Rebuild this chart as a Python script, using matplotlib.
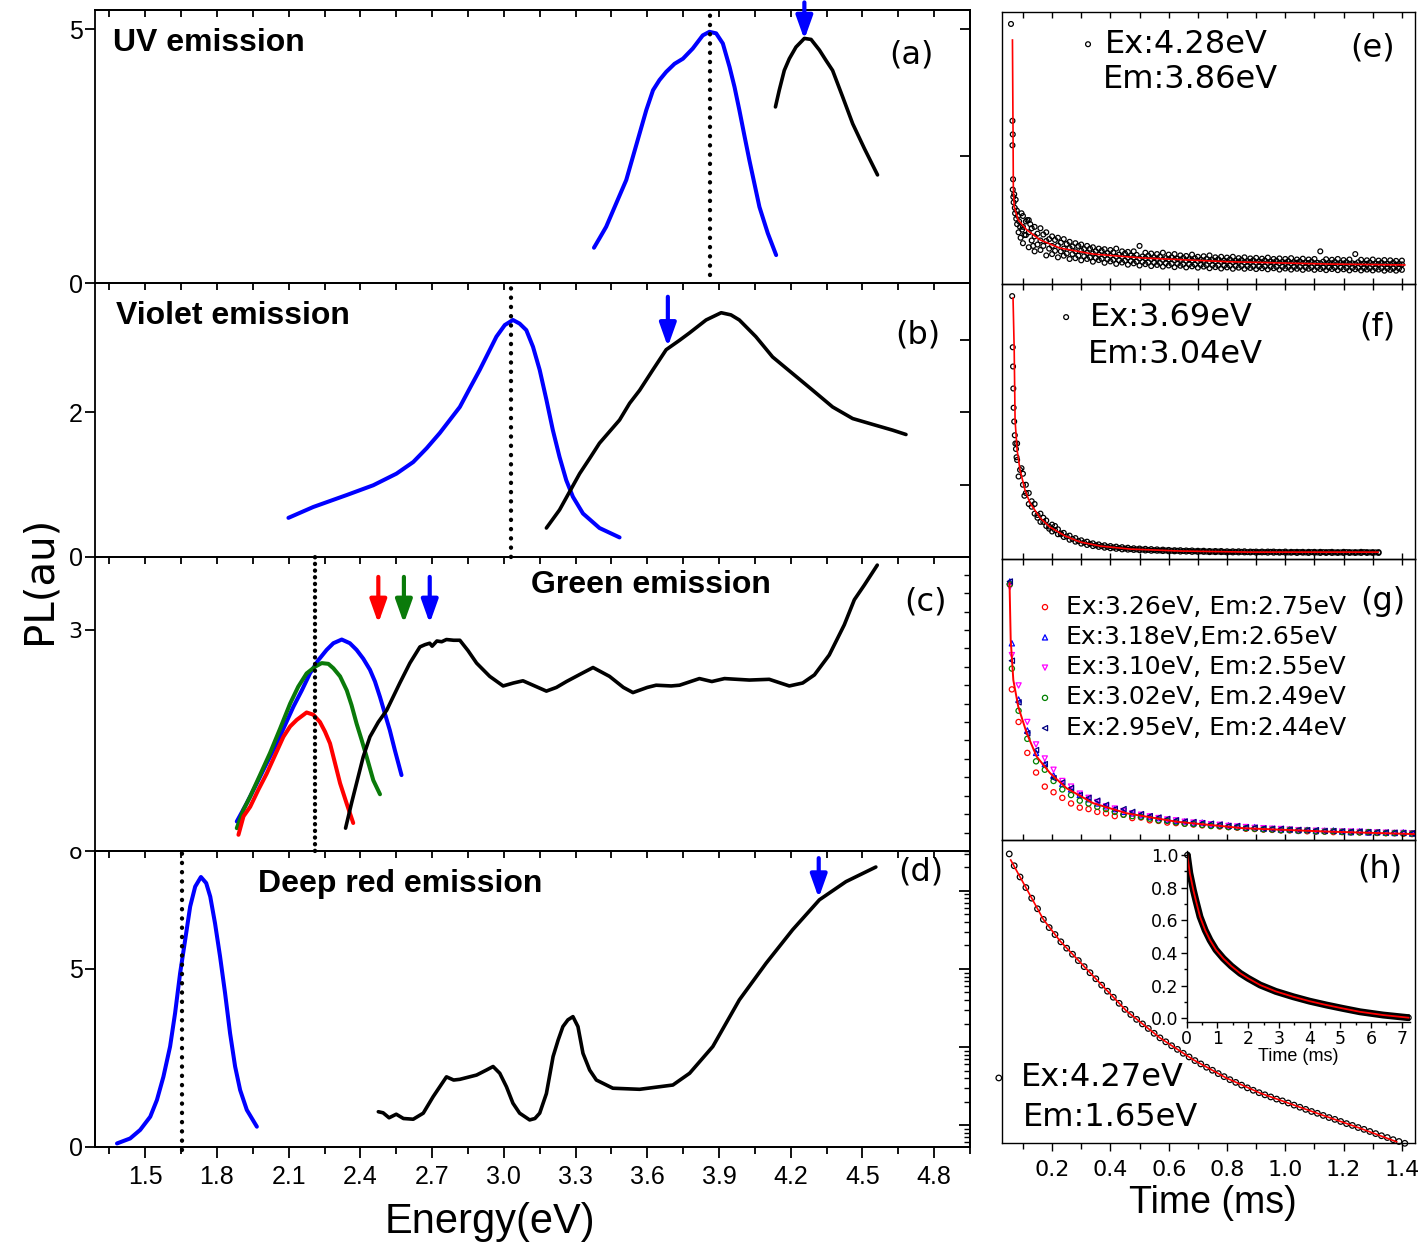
import matplotlib
matplotlib.use("Agg")
import matplotlib.pyplot as plt
from matplotlib.ticker import MultipleLocator, FormatStrFormatter, NullFormatter, LogLocator

plt.rcParams['font.family'] = ['Liberation Sans', 'DejaVu Sans']
plt.rcParams['axes.linewidth'] = 1.3

DEJAVU = ['DejaVu Sans']

BLUE = '#0000ff'
RED = '#ff0000'
GREEN = '#0a7a0a'

##### left column: PL / PLE spectra, energy (eV) vs intensity (au)

# (a) UV emission
a_pl_E = [3.377, 3.400, 3.428, 3.470, 3.512, 3.540, 3.568, 3.596, 3.624, 3.651, 3.679, 3.714, 3.749, 3.790,
          3.832, 3.860, 3.888, 3.916, 3.944, 3.965, 3.985, 4.006, 4.027, 4.048, 4.069, 4.104, 4.139]
a_pl_I = [0.695, 0.88, 1.108, 1.57, 2.03, 2.49, 2.95, 3.41, 3.80, 4.0, 4.16, 4.32, 4.42, 4.62,
          4.88, 4.95, 4.92, 4.72, 4.26, 3.86, 3.41, 2.91, 2.42, 1.96, 1.50, 0.98, 0.55]
a_ple_E = [4.136, 4.152, 4.173, 4.194, 4.222, 4.257, 4.285, 4.320, 4.347, 4.375, 4.417, 4.459, 4.508, 4.563]
a_ple_I = [3.47, 3.80, 4.19, 4.42, 4.65, 4.82, 4.80, 4.59, 4.39, 4.19, 3.67, 3.14, 2.65, 2.13]
a_peak_E = 3.864
a_ex_E = 4.257

# (b) Violet emission
b_pl_E = [2.099, 2.203, 2.343, 2.454, 2.551, 2.621, 2.677, 2.732, 2.774, 2.816, 2.858, 2.899, 2.934, 2.969,
          3.004, 3.038, 3.066, 3.094, 3.122, 3.150, 3.178, 3.205, 3.233, 3.261, 3.289, 3.331, 3.40, 3.484]
b_pl_I = [0.54, 0.69, 0.855, 0.99, 1.15, 1.31, 1.50, 1.71, 1.89, 2.07, 2.33, 2.58, 2.81, 3.04,
          3.20, 3.27, 3.22, 3.13, 2.90, 2.58, 2.17, 1.75, 1.38, 1.06, 0.83, 0.60, 0.40, 0.27]
b_ple_E = [3.178, 3.233, 3.275, 3.317, 3.359, 3.40, 3.484, 3.526, 3.568, 3.623, 3.679, 3.735, 3.776, 3.846,
           3.909, 3.950, 3.985, 4.054, 4.124, 4.208, 4.292, 4.375, 4.459, 4.542, 4.626, 4.682]
b_ple_I = [0.40, 0.65, 0.90, 1.15, 1.36, 1.57, 1.89, 2.12, 2.30, 2.58, 2.86, 2.99, 3.09, 3.27,
           3.37, 3.34, 3.27, 3.04, 2.76, 2.53, 2.30, 2.07, 1.91, 1.83, 1.75, 1.69]
b_peak_E = 3.032
b_ex_E = 3.686

# (c) Green emission, three excitations
c_blue_E = [1.883, 1.925, 1.967, 2.008, 2.050, 2.085, 2.120, 2.155, 2.189, 2.224, 2.259, 2.287, 2.322, 2.356,
            2.384, 2.412, 2.440, 2.461, 2.482, 2.502, 2.523, 2.544, 2.572]
c_blue_I = [0.40, 0.65, 0.92, 1.19, 1.46, 1.71, 1.96, 2.18, 2.41, 2.59, 2.73, 2.82, 2.87, 2.82,
            2.73, 2.61, 2.46, 2.30, 2.09, 1.87, 1.64, 1.37, 1.03]
c_green_E = [1.883, 1.911, 1.939, 1.980, 2.022, 2.064, 2.106, 2.140, 2.175, 2.210, 2.238, 2.266, 2.287, 2.315,
             2.343, 2.363, 2.384, 2.405, 2.426, 2.454, 2.482]
c_green_I = [0.31, 0.56, 0.74, 1.03, 1.33, 1.66, 2.00, 2.23, 2.41, 2.50, 2.55, 2.54, 2.48, 2.37,
             2.18, 1.98, 1.73, 1.51, 1.28, 0.96, 0.77]
c_red_E = [1.890, 1.911, 1.939, 1.973, 2.008, 2.043, 2.078, 2.106, 2.134, 2.175, 2.203, 2.231, 2.252, 2.273,
           2.294, 2.315, 2.342, 2.370]
c_red_I = [0.22, 0.47, 0.60, 0.83, 1.05, 1.30, 1.55, 1.69, 1.78, 1.88, 1.85, 1.75, 1.62, 1.46,
           1.19, 0.92, 0.65, 0.38]
c_ple_E = [2.338, 2.363, 2.384, 2.412, 2.440, 2.475, 2.510, 2.565, 2.607, 2.649, 2.67, 2.690, 2.70, 2.72,
           2.74, 2.760, 2.79, 2.816, 2.85, 2.886, 2.941, 2.997, 3.04, 3.080, 3.122, 3.178, 3.22, 3.262,
           3.32, 3.373, 3.442, 3.50, 3.540, 3.60, 3.637, 3.70, 3.735, 3.818, 3.87, 3.923, 4.027, 4.11,
           4.194, 4.25, 4.299, 4.361, 4.424, 4.466, 4.508, 4.562]
c_ple_I = [0.31, 0.65, 0.92, 1.28, 1.55, 1.75, 1.91, 2.28, 2.55, 2.77, 2.80, 2.82, 2.78, 2.85,
           2.84, 2.87, 2.86, 2.86, 2.72, 2.55, 2.37, 2.24, 2.28, 2.31, 2.25, 2.17, 2.22, 2.30,
           2.40, 2.49, 2.37, 2.22, 2.15, 2.22, 2.25, 2.24, 2.25, 2.34, 2.30, 2.34, 2.32, 2.33,
           2.24, 2.28, 2.39, 2.66, 3.07, 3.41, 3.61, 3.88]
c_peak_E = 2.210
c_ex_E = [2.475, 2.582, 2.690]
c_ex_colors = [RED, GREEN, BLUE]

# (d) Deep red emission
d_pl_E = [1.382, 1.437, 1.479, 1.521, 1.549, 1.576, 1.604, 1.625, 1.646, 1.667, 1.688, 1.709, 1.733, 1.755,
          1.772, 1.792, 1.813, 1.834, 1.855, 1.876, 1.897, 1.925, 1.967]
d_pl_I = [0.10, 0.24, 0.48, 0.85, 1.32, 1.97, 2.82, 3.76, 4.88, 5.81, 6.75, 7.31, 7.58, 7.41,
          7.03, 6.28, 5.35, 4.32, 3.19, 2.26, 1.60, 1.04, 0.57]
d_ple_E = [2.475, 2.495, 2.52, 2.55, 2.58, 2.621, 2.663, 2.704, 2.760, 2.79, 2.816, 2.886, 2.927, 2.955,
           2.983, 3.011, 3.038, 3.066, 3.108, 3.13, 3.15, 3.178, 3.206, 3.227, 3.247, 3.268, 3.289, 3.310,
           3.331, 3.359, 3.387, 3.456, 3.568, 3.707, 3.777, 3.874, 3.985, 4.097, 4.208, 4.320, 4.431, 4.556]
d_ple_I = [0.99, 0.96, 0.82, 0.92, 0.80, 0.78, 0.95, 1.41, 1.97, 1.88, 1.90, 2.02, 2.16, 2.26,
           2.07, 1.69, 1.23, 0.95, 0.76, 0.80, 0.95, 1.50, 2.54, 3.00, 3.38, 3.57, 3.66, 3.38,
           2.63, 2.16, 1.88, 1.65, 1.62, 1.74, 2.07, 2.82, 4.13, 5.16, 6.10, 6.94, 7.45, 7.86]
d_peak_E = 1.655
d_ex_E = 4.317

##### right column: decay curves, time (ms) vs normalised intensity

# (e) Ex:4.28eV Em:3.86eV
e_early_t = [0.059, 0.064, 0.065, 0.064, 0.066, 0.065, 0.067, 0.068, 0.070, 0.072,
             0.073, 0.075, 0.077, 0.079, 0.080, 0.083, 0.085, 0.087, 0.090, 0.092,
             0.095, 0.097, 0.105, 0.115, 0.125, 0.135]
e_early_y = [0.956, 0.60, 0.55, 0.51, 0.385, 0.347, 0.32, 0.30, 0.33, 0.28,
             0.26, 0.31, 0.24, 0.27, 0.22, 0.25, 0.19, 0.23, 0.21, 0.17,
             0.26, 0.20, 0.18, 0.235, 0.22, 0.14]
e_t = [0.10, 0.12, 0.14, 0.16, 0.18, 0.20, 0.22, 0.24, 0.26, 0.28,
       0.30, 0.32, 0.34, 0.36, 0.38, 0.40, 0.42, 0.44, 0.46, 0.48,
       0.50, 0.52, 0.54, 0.56, 0.58, 0.60, 0.62, 0.64, 0.66, 0.68,
       0.70, 0.72, 0.74, 0.76, 0.78, 0.80, 0.82, 0.84, 0.86, 0.88,
       0.90, 0.92, 0.94, 0.96, 0.98, 1.00, 1.02, 1.04, 1.06, 1.08,
       1.10, 1.12, 1.14, 1.16, 1.18, 1.20, 1.22, 1.24, 1.26, 1.28,
       1.30, 1.32, 1.34, 1.36, 1.38, 1.40]
e_y_hi = [.25, .235, .21, .205, .19, .175, .17, .165, .155, .15,
          .145, .14, .135, .13, .128, .125, .13, .12, .118, .12,
          .14, .115, .112, .11, .115, .108, .11, .105, .103, .108,
          .10, .102, .105, .098, .10, .097, .10, .095, .098, .094,
          .096, .093, .097, .092, .094, .092, .095, .09, .093, .09,
          .092, .12, .091, .089, .092, .088, .09, .11, .089, .087,
          .09, .086, .088, .087, .085, .086]
e_y_mid = [.21, .19, .175, .16, .158, .14, .142, .13, .132, .12,
           .122, .114, .112, .108, .106, .104, .101, .100, .097, .098,
           .094, .095, .092, .093, .089, .091, .088, .089, .086, .087,
           .085, .086, .083, .084, .082, .083, .081, .082, .080, .081,
           .079, .080, .078, .079, .077, .078, .077, .078, .076, .077,
           .075, .076, .075, .076, .074, .075, .074, .074, .073, .074,
           .072, .073, .072, .072, .071, .072]
e_y_lo = [.15, .135, .12, .125, .105, .11, .098, .104, .092, .095,
          .087, .092, .082, .088, .078, .083, .074, .079, .071, .076,
          .068, .073, .066, .07, .064, .068, .062, .067, .061, .065,
          .06, .064, .058, .062, .057, .061, .056, .06, .056, .059,
          .055, .058, .054, .058, .053, .057, .053, .056, .052, .056,
          .052, .055, .051, .055, .051, .054, .05, .054, .05, .053,
          .05, .053, .049, .052, .049, .052]
e_t2 = [0.11, 0.13, 0.15, 0.17, 0.19, 0.21, 0.23, 0.25, 0.27, 0.29,
        0.31, 0.33, 0.35, 0.37, 0.39, 0.41, 0.43, 0.45, 0.47, 0.49,
        0.51, 0.53, 0.55, 0.57, 0.59, 0.61, 0.63, 0.65, 0.67, 0.69,
        0.71, 0.73, 0.75, 0.77, 0.79, 0.81, 0.83, 0.85, 0.87, 0.89,
        0.91, 0.93, 0.95, 0.97, 0.99, 1.01, 1.03, 1.05, 1.07, 1.09,
        1.11, 1.13, 1.15, 1.17, 1.19, 1.21, 1.23, 1.25, 1.27, 1.29,
        1.31, 1.33, 1.35, 1.37, 1.39]
e_y2_hi = [.23, .205, .185, .182, .165, .162, .152, .147, .138, .14,
           .128, .13, .12, .122, .114, .116, .108, .112, .104, .107,
           .101, .104, .098, .1, .095, .098, .093, .096, .091, .094,
           .089, .092, .088, .091, .086, .09, .085, .088, .084, .087,
           .083, .086, .082, .085, .081, .084, .08, .083, .079, .082,
           .078, .082, .077, .081, .077, .08, .076, .08, .075, .079,
           .075, .078, .074, .078, .073]
e_y2_lo = [.18, .16, .145, .14, .13, .122, .12, .112, .11, .104,
           .102, .098, .096, .093, .091, .089, .087, .086, .084, .082,
           .081, .079, .078, .077, .076, .074, .074, .072, .072, .071,
           .07, .069, .069, .068, .067, .067, .066, .066, .065, .065,
           .064, .064, .063, .063, .063, .062, .062, .062, .061, .061,
           .061, .06, .06, .06, .06, .059, .059, .059, .058, .058,
           .058, .058, .057, .057, .057]
e_fit_t = [0.064, 0.066, 0.067, 0.070, 0.084, 0.113, 0.159, 0.227, 0.341, 0.512, 0.80, 1.14, 1.41]
e_fit_y = [0.897, 0.555, 0.357, 0.283, 0.235, 0.199, 0.162, 0.132, 0.110, 0.0956, 0.082, 0.0735, 0.070]

# (f) Ex:3.69eV Em:3.04eV
f_early_t = [0.063, 0.065, 0.066, 0.067, 0.068, 0.070, 0.072, 0.074, 0.076, 0.078,
             0.085, 0.095, 0.105, 0.11, 0.13, 0.15, 0.17, 0.19, 0.21, 0.23]
f_early_y = [0.956, 0.77, 0.70, 0.62, 0.55, 0.50, 0.45, 0.42, 0.40, 0.37,
             0.30, 0.33, 0.23, 0.27, 0.21, 0.15, 0.15, 0.11, 0.12, 0.09]
f_t = [0.08, 0.10, 0.12, 0.14, 0.16, 0.18, 0.20, 0.22, 0.24, 0.26,
       0.28, 0.30, 0.32, 0.34, 0.36, 0.38, 0.40, 0.42, 0.44, 0.46,
       0.48, 0.50, 0.52, 0.54, 0.56, 0.58, 0.60, 0.62, 0.64, 0.66,
       0.68, 0.70, 0.72, 0.74, 0.76, 0.78, 0.80, 0.82, 0.84, 0.86,
       0.88, 0.90, 0.92, 0.94, 0.96, 0.98, 1.00, 1.02, 1.04, 1.06,
       1.08, 1.10, 1.12, 1.14, 1.16, 1.18, 1.20, 1.22, 1.24, 1.26,
       1.28, 1.30, 1.32]
f_y_hi = [.42, .31, .24, .20, .165, .14, .125, .108, .095, .085,
          .076, .068, .063, .057, .053, .050, .047, .045, .043, .041,
          .039, .038, .037, .036, .035, .034, .033, .032, .032, .031,
          .031, .030, .030, .029, .029, .029, .028, .028, .028, .028,
          .027, .027, .027, .027, .027, .026, .027, .026, .026, .026,
          .026, .026, .026, .025, .026, .025, .026, .025, .025, .026,
          .025, .025, .025]
f_y_lo = [.36, .27, .20, .165, .135, .12, .10, .09, .08, .07,
          .063, .056, .051, .047, .044, .041, .039, .037, .035, .034,
          .033, .032, .031, .030, .030, .029, .028, .028, .027, .027,
          .026, .026, .026, .025, .025, .025, .024, .024, .024, .024,
          .024, .023, .024, .023, .023, .023, .023, .023, .022, .023,
          .022, .023, .022, .022, .022, .022, .022, .022, .022, .022,
          .022, .022, .022]
f_t2 = [0.09, 0.11, 0.13, 0.15, 0.17, 0.19, 0.21, 0.23, 0.25, 0.27,
        0.29, 0.31, 0.33, 0.35, 0.37, 0.39, 0.41, 0.43, 0.45, 0.47,
        0.49, 0.51, 0.53, 0.55, 0.57, 0.59, 0.61, 0.63, 0.65, 0.67,
        0.69, 0.71, 0.73, 0.75, 0.77, 0.79, 0.81, 0.83, 0.85, 0.87,
        0.89, 0.91, 0.93, 0.95, 0.97, 0.99, 1.01, 1.03, 1.05, 1.07,
        1.09, 1.11, 1.13, 1.15, 1.17, 1.19, 1.21, 1.23, 1.25, 1.27,
        1.29, 1.31]
f_y2 = [.324, .24, .19, .16, .135, .118, .105, .093, .082, .073,
        .065, .06, .055, .05, .047, .044, .042, .04, .038, .036,
        .035, .034, .033, .032, .031, .031, .03, .03, .029, .029,
        .028, .028, .027, .027, .027, .026, .026, .026, .026, .025,
        .026, .025, .025, .026, .025, .025, .024, .025, .025, .024,
        .025, .024, .025, .025, .024, .024, .025, .024, .024, .025,
        .024, .024]
f_fit_t = [0.066, 0.070, 0.073, 0.080, 0.090, 0.107, 0.124, 0.159, 0.193, 0.244, 0.296, 0.365, 0.468, 0.639, 0.879, 1.318]
f_fit_y = [0.949, 0.76, 0.505, 0.396, 0.324, 0.251, 0.204, 0.149, 0.116, 0.084, 0.062, 0.047, 0.036, 0.029, 0.025, 0.025]

# (g) five excitation / emission pairs
g_labels = ['Ex:3.26eV, Em:2.75eV', 'Ex:3.18eV,Em:2.65eV', 'Ex:3.10eV, Em:2.55eV',
            'Ex:3.02eV, Em.2.49eV', 'Ex:2.95eV, Em:2.44eV']
g_colors = ['#ff0000', '#0000ff', '#ff00ff', '#008000', '#000080']
g_markers = ['o', '^', 'v', 'o', '<']
g_t = [0.055, 0.062,
       0.085, 0.115, 0.145, 0.175, 0.205, 0.235, 0.265, 0.295, 0.325, 0.355,
       0.385, 0.415, 0.445, 0.475, 0.505, 0.535, 0.565, 0.595, 0.625, 0.655,
       0.685, 0.715, 0.745, 0.775, 0.805, 0.835, 0.865, 0.895, 0.925, 0.955,
       0.985, 1.015, 1.045, 1.075, 1.105, 1.135, 1.165, 1.195, 1.225, 1.255,
       1.285, 1.315, 1.345, 1.375, 1.405, 1.435]
g_red = [0.91, 0.536,
         .42, .31, .24, .19, .17, .15, .13, .115, .11, .10,
         .095, .085, .09, .078, .08, .07, .068, .062, .06, .058,
         .055, .052, .05, .048, .046, .044, .04, .039, .037, .036,
         .034, .034, .032, .031, .03, .03, .028, .028, .027, .027,
         .026, .025, .024, .024, .022, .021]
g_blue = [0.92, 0.70,
          .50, .39, .31, .27, .23, .20, .18, .16, .145, .13,
          .12, .11, .10, .095, .088, .083, .078, .072, .068, .066,
          .06, .062, .055, .053, .052, .047, .044, .046, .04, .04,
          .037, .038, .035, .036, .032, .033, .034, .03, .028, .031,
          .027, .028, .026, .025, .027, .023]
g_magenta = [0.90, 0.658,
             .55, .42, .34, .29, .25, .21, .19, .165, .15, .135,
             .12, .112, .103, .095, .09, .084, .078, .073, .07, .065,
             .062, .06, .056, .054, .05, .048, .046, .043, .042, .04,
             .039, .037, .035, .034, .033, .032, .031, .03, .03, .029,
             .028, .027, .026, .025, .025, .024]
g_green = [0.91, 0.61,
           .46, .36, .28, .25, .21, .18, .16, .14, .13, .118,
           .11, .1, .09, .085, .082, .076, .07, .068, .063, .058,
           .057, .054, .05, .05, .046, .045, .042, .04, .038, .037,
           .035, .036, .033, .034, .031, .03, .031, .029, .028, .027,
           .028, .026, .025, .025, .024, .023]
g_navy = [0.92, 0.638,
          .49, .38, .32, .27, .22, .205, .185, .16, .15, .14,
          .125, .11, .11, .10, .092, .085, .08, .075, .07, .066,
          .064, .06, .058, .055, .05, .05, .045, .044, .041, .04,
          .04, .037, .036, .035, .035, .032, .032, .031, .03, .03,
          .028, .028, .027, .026, .025, .024]
g_fit_t = [0.054, 0.058, 0.067, 0.084, 0.113, 0.147, 0.193, 0.250, 0.341, 0.456, 0.627, 0.856, 1.142, 1.445]
g_fit_y = [0.914, 0.712, 0.569, 0.474, 0.380, 0.297, 0.238, 0.184, 0.131, 0.095, 0.065, 0.042, 0.030, 0.021]

# (h) Ex:4.27eV Em:1.65eV
h_t = [0.053, 0.07, 0.09, 0.11, 0.13, 0.15, 0.17, 0.19, 0.21, 0.23,
       0.25, 0.27, 0.29, 0.31, 0.33, 0.35, 0.37, 0.39, 0.41, 0.43,
       0.45, 0.47, 0.49, 0.51, 0.53, 0.55, 0.57, 0.59, 0.61, 0.63,
       0.65, 0.67, 0.69, 0.71, 0.73, 0.75, 0.77, 0.79, 0.81, 0.83,
       0.85, 0.87, 0.89, 0.91, 0.93, 0.95, 0.97, 0.99, 1.01, 1.03,
       1.05, 1.07, 1.09, 1.11, 1.13, 1.15, 1.17, 1.19, 1.21, 1.23,
       1.25, 1.27, 1.29, 1.31, 1.33, 1.35, 1.37, 1.39, 1.41]
h_y = [.954, .915, .878, .843, .808, .773, .738, .711, .688, .664,
       .643, .623, .602, .582, .562, .542, .521, .501, .481, .461,
       .441, .424, .408, .393, .378, .362, .347, .334, .321, .309,
       .296, .284, .272, .261, .250, .240, .229, .219, .209, .200,
       .191, .182, .174, .166, .159, .152, .145, .139, .132, .125,
       .118, .111, .104, .098, .091, .084, .078, .071, .064, .058,
       .051, .045, .038, .031, .024, .018, .011, .005, -.001]
h_fit_t = [0.058, 0.113, 0.170, 0.227, 0.341, 0.456, 0.570, 0.684, 0.799, 0.913, 1.027, 1.142, 1.256, 1.382]
h_fit_y = [0.934, 0.838, 0.738, 0.667, 0.551, 0.435, 0.347, 0.275, 0.214, 0.165, 0.126, 0.087, 0.049, 0.004]

# (h) inset, full decay up to 7 ms
in_t = [0.02, 0.10, 0.215, 0.30, 0.433, 0.60, 0.759, 0.95, 1.19, 1.45, 1.74, 2.0, 2.39, 2.9, 3.47, 4.0, 4.56, 5.1, 5.64, 6.4, 7.22]
in_y = [1.0, 0.89, 0.786, 0.72, 0.622, 0.54, 0.479, 0.42, 0.367, 0.32, 0.276, 0.245, 0.204, 0.165, 0.132, 0.105, 0.081, 0.06, 0.040, 0.02, 0.004]


fig = plt.figure(figsize=(14.18, 12.5), dpi=100)
fig.patch.set_facecolor('white')


def energy_axes(rect, ylim, yticks, ylabels, right_ticks, last=False):
    ax = fig.add_axes(rect)
    ax.set_facecolor('none')
    ax.set_xlim(1.29, 4.95)
    ax.set_ylim(*ylim)
    ax.xaxis.set_major_locator(MultipleLocator(0.3))
    ax.xaxis.set_minor_locator(MultipleLocator(0.15))
    ax.xaxis.set_major_formatter(FormatStrFormatter('%.1f'))
    ax.tick_params(axis='x', which='major', direction='out', length=8 if last else 5, width=1.3,
                   labelbottom=last, labelsize=18, pad=5)
    ax.tick_params(axis='x', which='minor', direction='out', length=5, width=1.3)
    ax.set_yticks(yticks)
    ax.set_yticklabels(ylabels)
    ax.tick_params(axis='y', direction='out', length=7, width=1.3, labelsize=18, pad=2)
    if right_ticks is not None:
        sec = ax.secondary_yaxis('right')
        sec.set_yticks(right_ticks)
        sec.yaxis.set_major_formatter(NullFormatter())
        sec.tick_params(axis='y', direction='in', length=7, width=1.3)
    return ax


def dotted(ax, x, y0, y1, gap=2.1):
    ax.axvline(x, ymin=y0, ymax=y1, color='black', lw=3.1, linestyle=(0, (0.05, gap)),
               dash_capstyle='round', clip_on=False)


def down_arrow(ax, x, y_tail, y_tip, color):
    ax.annotate('', xy=(x, y_tip), xytext=(x, y_tail), annotation_clip=False,
                arrowprops=dict(arrowstyle='-|>,head_length=0.7,head_width=0.25', color=color,
                                lw=3, shrinkA=0, shrinkB=0, mutation_scale=20))


def panel_text(ax, x, y, s, **kw):
    ax.text(x, y, s, transform=ax.transAxes, va='center', **kw)


# ----- (a)
ax_a = energy_axes([0.0670, 0.7736, 0.6171, 0.2184], (0, 5.38), [0, 5], ['0', '5'], [0, 2.5, 5])
top = ax_a.secondary_xaxis('top')
top.xaxis.set_major_locator(MultipleLocator(0.15))
top.xaxis.set_major_formatter(NullFormatter())
top.tick_params(axis='x', direction='in', length=5, width=1.3)
ax_a.plot(a_pl_E, a_pl_I, color=BLUE, lw=2.9, solid_capstyle='round', solid_joinstyle='round')
ax_a.plot(a_ple_E, a_ple_I, color='black', lw=2.6, solid_capstyle='round', solid_joinstyle='round')
dotted(ax_a, a_peak_E, 0.03, 0.99)
down_arrow(ax_a, a_ex_E, 5.53, 4.80, BLUE)
panel_text(ax_a, 0.0206, 0.879, 'UV emission', fontsize=23, fontweight='bold')
panel_text(ax_a, 0.9326, 0.835, '(a)', fontsize=23, ha='center', family=DEJAVU)

# ----- (b)
ax_b = energy_axes([0.0670, 0.5544, 0.6171, 0.2192], (0, 3.78), [0, 2], ['0', '2'], [0, 1, 2, 3])
ax_b.plot(b_pl_E, b_pl_I, color=BLUE, lw=2.9, solid_capstyle='round', solid_joinstyle='round')
ax_b.plot(b_ple_E, b_ple_I, color='black', lw=2.6, solid_capstyle='round', solid_joinstyle='round')
dotted(ax_b, b_peak_E, 0.0, 1.01)
down_arrow(ax_b, b_ex_E, 3.59, 2.90, BLUE)
panel_text(ax_b, 0.024, 0.880, 'Violet emission', fontsize=23, fontweight='bold')
panel_text(ax_b, 0.9406, 0.810, '(b)', fontsize=23, ha='center', family=DEJAVU)

# ----- (c)
ax_c = energy_axes([0.0670, 0.3192, 0.6171, 0.2352], (0, 3.99), [0, 3], ['o', '3'], None)
ax_c.tick_params(axis='y', labelfontfamily='DejaVu Sans', labelsize=16)
sec_c = ax_c.secondary_yaxis('right')
sec_c.yaxis.set_major_locator(MultipleLocator(0.25))
sec_c.yaxis.set_major_formatter(NullFormatter())
sec_c.tick_params(axis='y', direction='in', length=4, width=1.0)
for E, I, col in [(c_blue_E, c_blue_I, BLUE), (c_green_E, c_green_I, GREEN), (c_red_E, c_red_I, RED)]:
    ax_c.plot(E, I, color=col, lw=2.9, solid_capstyle='round', solid_joinstyle='round')
ax_c.plot(c_ple_E, c_ple_I, color='black', lw=2.6, solid_capstyle='round', solid_joinstyle='round')
dotted(ax_c, c_peak_E, 0.0, 1.0, gap=1.5)
for ex, col in zip(c_ex_E, c_ex_colors):
    down_arrow(ax_c, ex, 3.72, 3.09, col)
panel_text(ax_c, 0.498, 0.905, 'Green emission', fontsize=23, fontweight='bold')
panel_text(ax_c, 0.9486, 0.847, '(c)', fontsize=23, ha='center', family=DEJAVU)

# ----- (d)
ax_d = energy_axes([0.0670, 0.0824, 0.6171, 0.2368], (0, 8.31), [0, 5], ['0', '5'], None, last=True)
log_d = ax_d.twinx()
log_d.set_yscale('log')
log_d.set_ylim(10 ** -0.28, 10 ** 3.51)
log_d.yaxis.set_major_locator(LogLocator(base=10))
log_d.yaxis.set_minor_locator(LogLocator(base=10, subs=range(2, 10)))
log_d.yaxis.set_major_formatter(NullFormatter())
log_d.yaxis.set_minor_formatter(NullFormatter())
log_d.tick_params(axis='y', which='major', direction='in', length=8, width=1.3)
log_d.tick_params(axis='y', which='minor', direction='in', length=4, width=1.0)
ax_d.plot(d_pl_E, d_pl_I, color=BLUE, lw=2.9, solid_capstyle='round', solid_joinstyle='round')
ax_d.plot(d_ple_E, d_ple_I, color='black', lw=2.6, solid_capstyle='round', solid_joinstyle='round')
dotted(ax_d, d_peak_E, -0.01, 1.0)
down_arrow(ax_d, d_ex_E, 8.11, 6.99, BLUE)
panel_text(ax_d, 0.186, 0.889, 'Deep red emission', fontsize=23, fontweight='bold')
panel_text(ax_d, 0.944, 0.929, '(d)', fontsize=23, ha='center', family=DEJAVU)

fig.text(0.028, 1 - 580 / 1250, 'PL(au)', rotation=90, fontsize=29, ha='center', va='center', family=DEJAVU)
fig.text(0.3456, 1 - 1222 / 1250, 'Energy(eV)', fontsize=30, ha='center', va='center')


# ----- right column
def time_axes(rect, last=False):
    ax = fig.add_axes(rect)
    ax.set_facecolor('none')
    ax.set_xlim(0.028, 1.445)
    ax.set_ylim(0, 1)
    ax.set_yticks([])
    for sp in ax.spines.values():
        sp.set_linewidth(1.0)
    if last:
        ax.xaxis.set_major_locator(MultipleLocator(0.2))
        ax.xaxis.set_minor_locator(MultipleLocator(0.1))
        ax.xaxis.set_major_formatter(FormatStrFormatter('%.1f'))
        ax.tick_params(axis='x', which='both', direction='out', width=1.0, labelsize=16,
                       labelfontfamily='DejaVu Sans', pad=6)
        ax.tick_params(axis='x', which='major', length=6)
        ax.tick_params(axis='x', which='minor', length=4)
    else:
        ax.xaxis.set_major_locator(MultipleLocator(0.1))
        ax.tick_params(axis='x', direction='in', top=True, bottom=True, length=4, width=1.0,
                       labelbottom=False)
    return ax


OPEN = dict(facecolors='none', linewidths=0.9)
LEG = dict(frameon=False, borderpad=0, borderaxespad=0, handlelength=0.5, scatterpoints=1)

# (e)
ax_e = time_axes([0.7066, 0.7728, 0.2913, 0.2176])
sc_e = ax_e.scatter(e_early_t, e_early_y, s=12, edgecolors='black', **OPEN)
for ys in (e_y_hi, e_y_mid, e_y_lo):
    ax_e.scatter(e_t, ys, s=12, edgecolors='black', **OPEN)
for ys in (e_y2_hi, e_y2_lo):
    ax_e.scatter(e_t2, ys, s=12, edgecolors='black', **OPEN)
ax_e.plot(e_fit_t, e_fit_y, color=RED, lw=1.2)
ax_e.legend([sc_e], ['Ex:4.28eV'], loc='center left', bbox_to_anchor=(0.189, 0.882),
            prop={'family': 'DejaVu Sans', 'size': 23}, handletextpad=0.29, **LEG)
panel_text(ax_e, 0.245, 0.75, 'Em:3.86eV', fontsize=23, family=DEJAVU)
panel_text(ax_e, 0.896, 0.868, '(e)', fontsize=23, ha='center', family=DEJAVU)

# (f)
ax_f = time_axes([0.7066, 0.5528, 0.2913, 0.22])
sc_f = ax_f.scatter(f_early_t, f_early_y, s=12, edgecolors='black', **OPEN)
for ys in (f_y_hi, f_y_lo):
    ax_f.scatter(f_t, ys, s=12, edgecolors='black', **OPEN)
ax_f.scatter(f_t2, f_y2, s=12, edgecolors='black', **OPEN)
ax_f.plot(f_fit_t, f_fit_y, color=RED, lw=1.2)
ax_f.legend([sc_f], ['Ex:3.69eV'], loc='center left', bbox_to_anchor=(0.136, 0.88),
            prop={'family': 'DejaVu Sans', 'size': 23}, handletextpad=0.5, **LEG)
panel_text(ax_f, 0.208, 0.745, 'Em:3.04eV', fontsize=23, family=DEJAVU)
panel_text(ax_f, 0.908, 0.844, '(f)', fontsize=23, ha='center', family=DEJAVU)

# (g)
ax_g = time_axes([0.7066, 0.328, 0.2913, 0.2248])
g_handles = []
for ys, col, mk in zip([g_red, g_blue, g_magenta, g_green, g_navy], g_colors, g_markers):
    g_handles.append(ax_g.scatter(g_t, ys, s=14, marker=mk, edgecolors=col, **OPEN))
ax_g.plot(g_fit_t, g_fit_y, color=RED, lw=1.4)
ax_g.legend(g_handles, g_labels, loc='upper left', bbox_to_anchor=(0.086, 0.873),
            prop={'family': 'DejaVu Sans', 'size': 18}, handletextpad=0.54, labelspacing=0.25,
            frameon=False, borderpad=0, borderaxespad=0, handlelength=0.6, scatterpoints=1)
panel_text(ax_g, 0.922, 0.85, '(g)', fontsize=23, ha='center', family=DEJAVU)

# (h)
ax_h = time_axes([0.7066, 0.0856, 0.2913, 0.2424], last=True)
sc_h = ax_h.scatter(h_t, h_y, s=16, edgecolors='black', clip_on=False, **OPEN)
ax_h.plot(h_fit_t, h_fit_y, color=RED, lw=1.2)
ax_h.legend([sc_h], ['Ex:4.27eV'], loc='center left', bbox_to_anchor=(-0.027, 0.215),
            prop={'family': 'DejaVu Sans', 'size': 23}, handletextpad=0.44, **LEG)
panel_text(ax_h, 0.051, 0.083, 'Em:1.65eV', fontsize=23, family=DEJAVU)
panel_text(ax_h, 0.915, 0.904, '(h)', fontsize=23, ha='center', family=DEJAVU)

fig.text(0.8554, 1 - 1203 / 1250, 'Time (ms)', fontsize=27, ha='center', va='center')

# inset of (h)
ax_in = fig.add_axes([0.8369, 0.1826, 0.1575, 0.1366])
ax_in.set_facecolor('none')
ax_in.spines['top'].set_visible(False)
ax_in.spines['right'].set_visible(False)
for sp in ax_in.spines.values():
    sp.set_linewidth(1.0)
ax_in.set_xlim(0, 7.27)
ax_in.set_ylim(-0.021, 1.025)
ax_in.xaxis.set_major_locator(MultipleLocator(1))
ax_in.xaxis.set_minor_locator(MultipleLocator(0.5))
ax_in.yaxis.set_major_locator(MultipleLocator(0.2))
ax_in.yaxis.set_minor_locator(MultipleLocator(0.1))
ax_in.yaxis.set_major_formatter(FormatStrFormatter('%.1f'))
ax_in.tick_params(which='both', direction='out', width=1.0, labelsize=12.5, pad=2,
                  labelfontfamily='DejaVu Sans')
ax_in.tick_params(which='major', length=4)
ax_in.tick_params(which='minor', length=2.5)
ax_in.plot(in_t, in_y, color='black', lw=5, solid_capstyle='round', solid_joinstyle='round')
ax_in.plot(in_t, in_y, color=RED, lw=1.3)
ax_in.scatter([in_t[0], in_t[-1]], [in_y[0], in_y[-1]], s=14, edgecolors='black', clip_on=False, **OPEN)
ax_in.set_xlabel('Time (ms)', fontsize=13, labelpad=0)

fig.savefig('out.png', dpi=100)
